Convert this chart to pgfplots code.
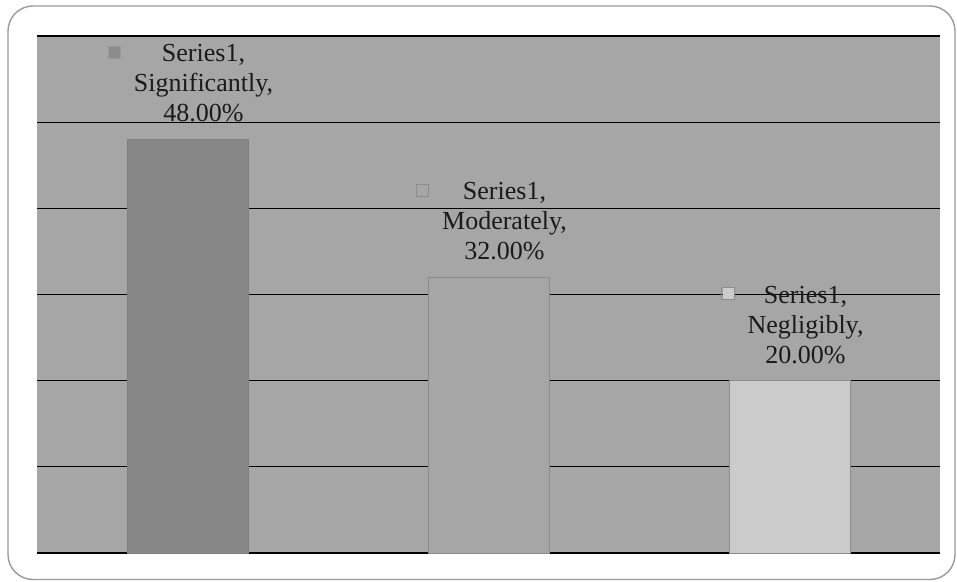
\documentclass[border=0pt]{standalone}
\usepackage{pgfplots}
\pgfplotsset{compat=1.18}
\usepackage{fontspec}
\setmainfont{Liberation Serif}

\definecolor{plotbg}{HTML}{A6A6A6}
\definecolor{barA}{HTML}{878787}
\definecolor{barAedge}{HTML}{7F7F7F}
\definecolor{barB}{HTML}{A6A6A6}
\definecolor{barBedge}{HTML}{8C8C8C}
\definecolor{barC}{HTML}{CBCBCB}
\definecolor{barCedge}{HTML}{8C8C8C}
\definecolor{frame}{HTML}{9A9A9A}
\definecolor{labeltext}{HTML}{1A1A1A}

% small legend key in front of a data label
\newcommand{\keybox}[2]{{\setlength{\fboxsep}{0pt}\setlength{\fboxrule}{1pt}%
  \raisebox{4pt}{\fcolorbox{#2}{#1}{\rule{0pt}{11pt}\hspace{11pt}}}}}
% three-line data label: series, category, value
\newcommand{\barlabel}[3]{\keybox{#2}{#3}\hspace{13pt}%
  \begin{tabular}[t]{@{}c@{}}Series1,\\#1,\\%
  \pgfmathprintnumber[fixed,fixed zerofill,precision=2]{\pgfplotspointmeta}\%\end{tabular}}

\begin{document}
\begin{tikzpicture}
\path[use as bounding box] (0,0) rectangle (957pt,581pt);
\draw[frame, line width=1.4pt, rounded corners=25pt] (8pt,1.5pt) rectangle (955pt,575pt);
\begin{axis}[
  at={(37pt,28pt)}, anchor=south west,
  scale only axis, width=903pt, height=517pt,
  xmin=-0.5, xmax=2.5, ymin=0, ymax=60,
  ytick={0,10,...,60}, yticklabels={}, xtick=\empty,
  ymajorgrids, grid style={black, line width=1.3pt},
  axis line style={draw=none}, tick style={draw=none},
  axis background/.style={fill=plotbg},
  /pgf/number format/assume math mode=true,
  ybar, bar width=121pt, bar shift=0pt,
  clip=false,
  every node near coord/.append style={font=\fontsize{26}{30}\selectfont,
    text=labeltext, inner sep=0pt, anchor=south, yshift=8pt, xshift=3pt},
]
\addplot[fill=barA, draw=barAedge, line width=1pt,
  nodes near coords={\barlabel{Significantly}{barBedge}{frame}}]
  coordinates {(0,48)};
\addplot[fill=barB, draw=barBedge, line width=1pt,
  nodes near coords={\barlabel{Moderately}{plotbg}{barBedge}}]
  coordinates {(1,32)};
\addplot[fill=barC, draw=barCedge, line width=1pt,
  nodes near coords={\barlabel{Negligibly}{barC}{barCedge}}]
  coordinates {(2,20)};
\end{axis}
\end{tikzpicture}
\end{document}
